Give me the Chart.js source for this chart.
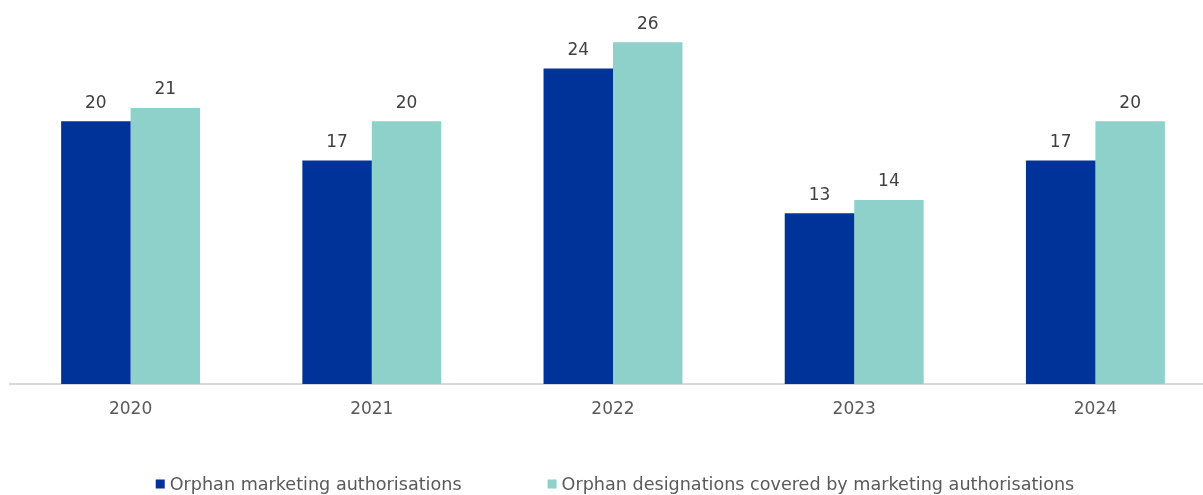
<!DOCTYPE html>
<html>
<head>
<meta charset="utf-8">
<script src="https://cdn.jsdelivr.net/npm/chart.js@4.4.1/dist/chart.umd.min.js"></script>
<style>
  html, body { margin: 0; padding: 0; background: #fff; }
  #wrap { width: 1203px; height: 495px; overflow: hidden; position: relative; }
  #wrap canvas { position: absolute; left: 0; top: 0; }
</style>
</head>
<body>
<div id="wrap">
  <canvas id="orphanChart" width="1226" height="495" style="width:1226px;height:495px"></canvas>
</div>
<script>
const years = ['2020', '2021', '2022', '2023', '2024'];
const marketingAuths = [20, 17, 24, 13, 17];
const designationsCovered = [21, 20, 26, 14, 20];
const seriesNames = ['Orphan marketing authorisations', 'Orphan designations covered by marketing authorisations'];
const seriesColors = ['#003399', '#8ED1CA'];

const FONT = '"DejaVu Sans", Verdana, sans-serif';

// numbers above each bar
const valueLabels = {
  id: 'valueLabels',
  afterDatasetsDraw(chart) {
    const ctx = chart.ctx;
    ctx.save();
    ctx.font = '17px ' + FONT;
    ctx.fillStyle = '#404040';
    ctx.textAlign = 'center';
    ctx.textBaseline = 'middle';
    chart.data.datasets.forEach((ds, i) => {
      chart.getDatasetMeta(i).data.forEach((bar, j) => {
        ctx.fillText(ds.data[j], bar.x, bar.y - 18);
      });
    });
    ctx.restore();
  }
};

// legend at the bottom, drawn by hand so the spacing matches
const bottomLegend = {
  id: 'bottomLegend',
  afterDraw(chart) {
    const ctx = chart.ctx;
    const box = 9, gap = 5, between = 86;
    ctx.save();
    ctx.font = '17.6px ' + FONT;
    ctx.textBaseline = 'middle';
    const widths = seriesNames.map(n => ctx.measureText(n).width);
    let total = 0;
    widths.forEach((w, i) => { total += box + gap + w + (i ? between : 0); });
    let x = 615 - total / 2;
    const y = 484;
    seriesNames.forEach((name, i) => {
      ctx.fillStyle = seriesColors[i];
      ctx.fillRect(x, y - box / 2, box, box);
      x += box + gap;
      ctx.fillStyle = '#595959';
      ctx.fillText(name, x, y + 1);
      x += widths[i] + between;
    });
    ctx.restore();
  }
};

const ctx = document.getElementById('orphanChart').getContext('2d');
new Chart(ctx, {
  type: 'bar',
  data: {
    labels: years,
    datasets: [
      { label: seriesNames[0], data: marketingAuths, backgroundColor: seriesColors[0] },
      { label: seriesNames[1], data: designationsCovered, backgroundColor: seriesColors[1] }
    ]
  },
  options: {
    responsive: false,
    animation: false,
    categoryPercentage: 0.576,
    barPercentage: 1,
    layout: { padding: { left: 10, right: 10, top: 16, bottom: 0 } },
    plugins: {
      legend: { display: false },
      tooltip: { enabled: false }
    },
    scales: {
      x: {
        grid: { display: false, drawTicks: false },
        border: { display: true, color: '#d9d9d9', width: 2 },
        ticks: { color: '#595959', font: { family: FONT, size: 17 }, padding: 15 },
        afterFit: scale => { scale.height = 111; }
      },
      y: {
        display: false,
        min: 0,
        max: 28
      }
    }
  },
  plugins: [valueLabels, bottomLegend]
});
</script>
</body>
</html>
